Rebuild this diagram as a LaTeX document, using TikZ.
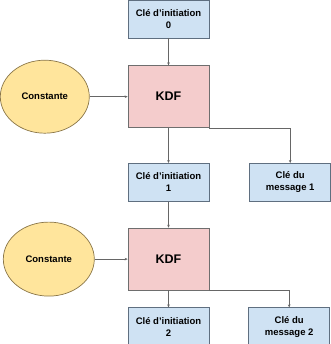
\documentclass[tikz,border=0pt]{standalone}
\usepackage{fontspec}
\setmainfont{Liberation Sans}
\usetikzlibrary{positioning,arrows.meta,shapes.geometric}
\definecolor{keyblue}{HTML}{CFE2F3}
\definecolor{keyline}{HTML}{5F6F80}
\definecolor{kdfred}{HTML}{F4CCCC}
\definecolor{kdfline}{HTML}{6E6E6E}
\definecolor{constyellow}{HTML}{FFE59C}
\definecolor{constline}{HTML}{8A7648}
\definecolor{wire}{HTML}{666666}
\begin{document}
\begin{tikzpicture}[x=1pt,y=-1pt,>={Stealth[length=3pt,width=2.6pt]},
        keybox/.style={draw=keyline, fill=keyblue, line width=0.7pt, minimum width=81pt, minimum height=38pt,
            inner sep=0pt, align=center, font=\fontsize{9.5}{12}\selectfont\bfseries},
        kdfbox/.style={draw=kdfline, fill=kdfred, line width=0.7pt, minimum width=81pt, minimum height=62pt,
            inner sep=0pt, font=\fontsize{12.5}{14}\selectfont\bfseries},
        constnode/.style={ellipse, draw=constline, fill=constyellow, line width=0.7pt, inner sep=0pt,
            font=\fontsize{9.5}{12}\selectfont\bfseries},
        wireline/.style={draw=wire, line width=0.7pt}]
        \useasboundingbox (0,0) rectangle (330,344);
        \node (init0) [keybox] at (168.5,19) {Clé d’initiation\\0};
        \node (kdf1) [kdfbox, below=27pt of init0] {KDF};
        \node (const1) [constnode, minimum width=89pt, minimum height=73pt, left=38pt of kdf1] {Constante};
        \node (init1) [keybox, below=35pt of kdf1] {Clé d’initiation\\1};
        \node (msg1) [keybox, right=40pt of init1] {Clé du\\message 1};

        \node (kdf2) [kdfbox, below=26pt of init1] {KDF};
        \node (const2) [constnode, minimum width=91pt, minimum height=74pt, left=33pt of kdf2] {Constante};
        \node (init2) [keybox, below=17pt of kdf2] {Clé d’initiation\\2};
        \node (msg2) [keybox, right=39pt of init2] {Clé du\\message 2};

        \draw[wireline,->] (init0) -- (kdf1);
        \draw[wireline,->] (const1) -- (kdf1);
        \draw[wireline,->] (kdf1) -- (init1);
        \draw[wireline,->] (kdf1.south east) -| (msg1);

        \draw[wireline,->] (init1) -- (kdf2);
        \draw[wireline,->] (const2) -- (kdf2);
        \draw[wireline,->] (kdf2) -- (init2);
        \draw[wireline,->] (kdf2.south east) -| (msg2);
    \end{tikzpicture}
\end{document}
